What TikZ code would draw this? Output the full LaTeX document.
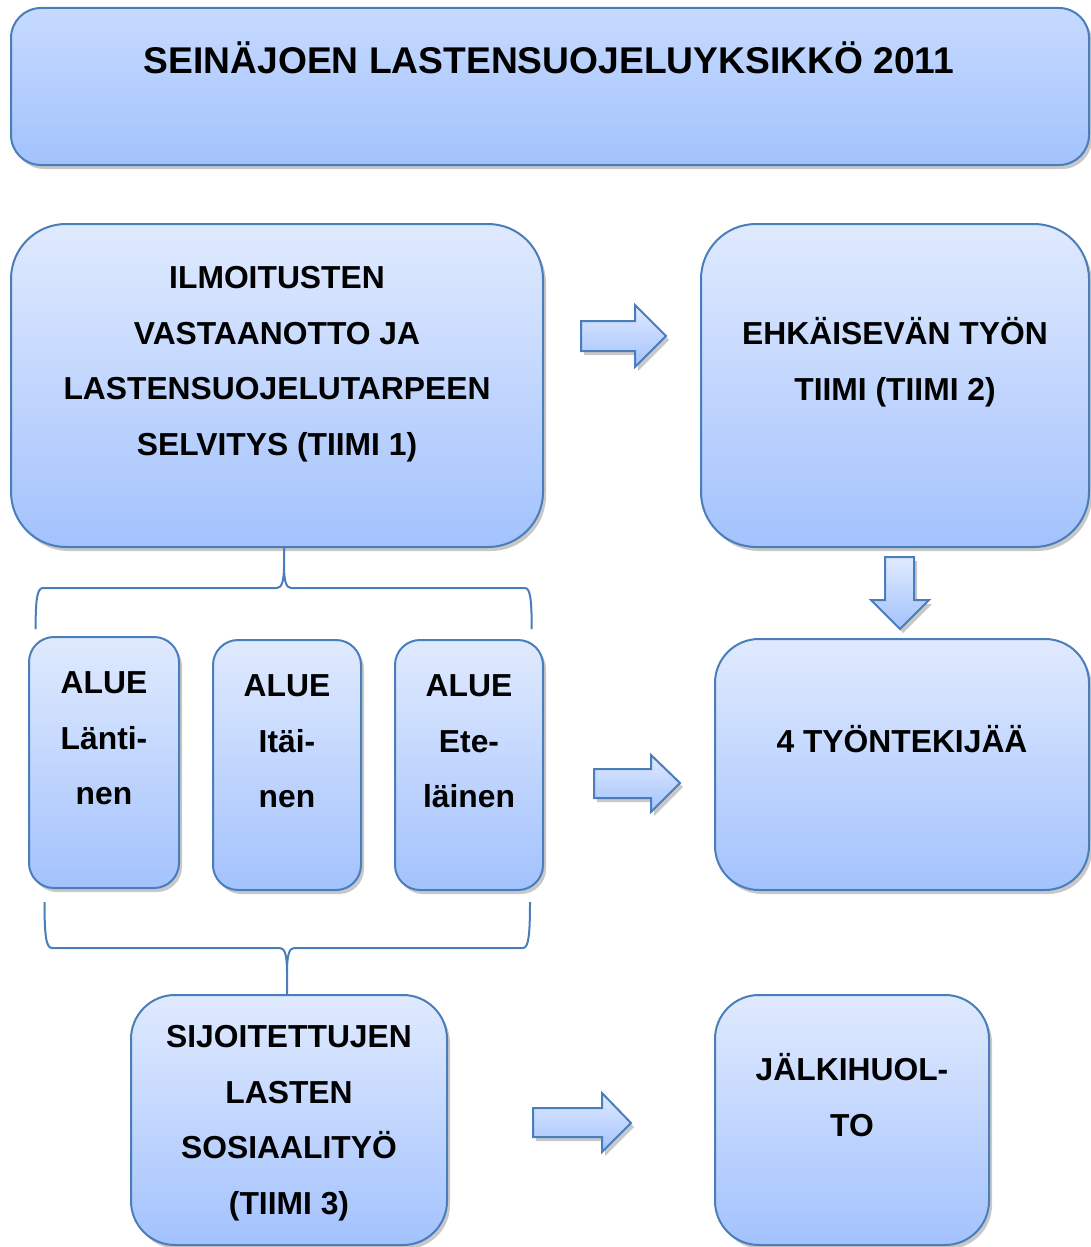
\documentclass[tikz,border=0pt]{standalone}
\usepackage{fontspec}
\setmainfont{Liberation Sans}
\usetikzlibrary{shadows}
\definecolor{bord}{HTML}{4A7EBB}
\definecolor{boxtop}{HTML}{E0EAFE}
\definecolor{boxbot}{HTML}{A3C2FD}
\definecolor{titletop}{HTML}{C6DAFE}
\definecolor{shadowc}{HTML}{C8C8C8}
\newcommand\firstln{\rule{0pt}{30pt}}
\begin{document}
\begin{tikzpicture}[x=1pt,y=-1pt,
  box/.style={draw=bord, line width=2pt, top color=boxtop, bottom color=boxbot,
    drop shadow={shadow xshift=3pt, shadow yshift=-4pt, fill=shadowc, opacity=1},
    inner sep=0pt, rectangle},
  blockarrow/.style={draw=bord, line width=2pt, line join=miter, top color=boxtop, bottom color=boxbot,
    drop shadow={shadow xshift=3pt, shadow yshift=-4pt, fill=shadowc, opacity=1}},
  brace/.style={draw=bord, line width=2pt},
  txt/.style={font=\fontsize{31.8}{55.5}\selectfont\bfseries, align=center, inner sep=0pt, anchor=north},
  txtone/.style={font=\fontsize{31.8}{55.5}\selectfont\bfseries, inner sep=0pt, anchor=base},
]
\useasboundingbox (0,0) rectangle (1090,1247);

% boxes
\node[box, rounded corners=30pt, minimum width=1078pt, minimum height=157pt, top color=titletop] (title) at (550,86.5) {};
\node[box, rounded corners=55pt, minimum width=532pt, minimum height=323pt] (t1) at (277,385.5) {};
\node[box, rounded corners=55pt, minimum width=388pt, minimum height=323pt] (t2) at (895,385.5) {};
\node[box, rounded corners=44pt, minimum width=374pt, minimum height=251pt] (w4) at (902,764.5) {};
\node[box, rounded corners=25pt, minimum width=150pt, minimum height=251pt] (a1) at (104,762.5) {};
\node[box, rounded corners=25pt, minimum width=148pt, minimum height=250pt] (a2) at (287,765) {};
\node[box, rounded corners=25pt, minimum width=148pt, minimum height=250pt] (a3) at (469,765) {};
\node[box, rounded corners=44pt, minimum width=316pt, minimum height=250pt] (t3) at (289,1120) {};
\node[box, rounded corners=44pt, minimum width=274pt, minimum height=250pt] (jh) at (852,1120) {};

% texts
\node[txtone, font=\fontsize{37.2}{44}\selectfont\bfseries] (titletxt) at (549,73.3) {SEINÄJOEN LASTENSUOJELUYKSIKKÖ 2011};
\node[txt] (t1txt) at (277,258.4) {\firstln ILMOITUSTEN\\VASTAANOTTO JA\\LASTENSUOJELUTARPEEN\\SELVITYS (TIIMI 1)};
\node[txt] (t2txt) at (895,314.4) {\firstln EHKÄISEVÄN TYÖN\\TIIMI (TIIMI 2)};
\node[txtone] (w4txt) at (902,752.4) {4 TYÖNTEKIJÄÄ};
\node[txt] (a1txt) at (104,663.4) {\firstln ALUE\\Länti-\\nen};
\node[txt] (a2txt) at (287,666.4) {\firstln ALUE\\Itäi-\\nen};
\node[txt] (a3txt) at (469,666.4) {\firstln ALUE\\Ete-\\läinen};
\node[txt] (t3txt) at (289,1017.4) {\firstln SIJOITETTUJEN\\LASTEN\\SOSIAALITYÖ\\(TIIMI 3)};
\node[txt] (jhtxt) at (852,1050.4) {\firstln JÄLKIHUOL-\\TO};

% block arrows
\path[blockarrow] (581,321) -- (635,321) -- (635,305) -- (666,336) -- (635,367) -- (635,351) -- (581,351) -- cycle;
\path[blockarrow] (594,769) -- (651,769) -- (651,755) -- (680,783) -- (651,812) -- (651,798) -- (594,798) -- cycle;
\path[blockarrow] (533,1108) -- (602,1108) -- (602,1093) -- (631,1123) -- (602,1152) -- (602,1137) -- (533,1137) -- cycle;
\path[blockarrow] (885,557) -- (914,557) -- (914,600) -- (929,600) -- (900,629) -- (871,600) -- (885,600) -- cycle;

% braces
\coordinate (ttop) at (284,547);
\coordinate (tl) at (35.6,629);
\coordinate (tr) at (531.7,629);
\draw[brace] (tl) .. controls (35.6,600) and (37,588) .. (43,588) -- (277,588)
  .. controls (282,588) and (284,580) .. (284,566) -- (ttop);
\draw[brace] (tr) .. controls (531.7,600) and (530.3,588) .. (525,588) -- (291,588)
  .. controls (286,588) and (284,580) .. (284,566);

\coordinate (bbot) at (287,995);
\coordinate (bl) at (44.5,902);
\coordinate (br) at (530,902);
\draw[brace] (bl) .. controls (44.5,935) and (46,948) .. (52,948) -- (280,948)
  .. controls (285,948) and (287,956) .. (287,972) -- (bbot);
\draw[brace] (br) .. controls (530,935) and (528.5,948) .. (523,948) -- (294,948)
  .. controls (289,948) and (287,956) .. (287,972);
\end{tikzpicture}
\end{document}
